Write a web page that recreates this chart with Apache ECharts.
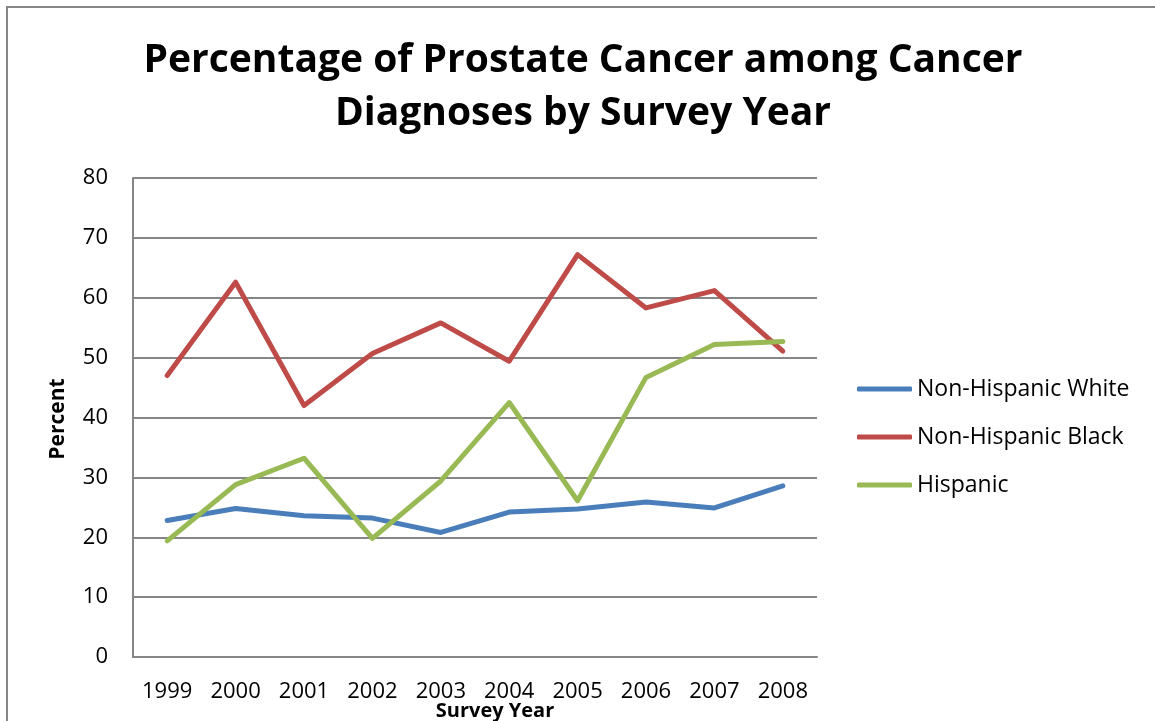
<!DOCTYPE html>
<html>
<head>
<meta charset="utf-8">
<script src="https://cdn.jsdelivr.net/npm/echarts@6/dist/echarts.min.js"></script>
<style>
  html, body { margin: 0; padding: 0; background: #fff; }
  #chart { width: 1155px; height: 721px; }
</style>
</head>
<body>
<div id="chart"></div>
<script>
// Survey years on the category axis
const years = ['1999', '2000', '2001', '2002', '2003', '2004', '2005', '2006', '2007', '2008'];

// Percentage of prostate cancer among cancer diagnoses, by group
const nonHispanicWhite = [22.8, 24.8, 23.6, 23.2, 20.8, 24.2, 24.7, 25.9, 24.9, 28.6];
const nonHispanicBlack = [47.0, 62.6, 42.0, 50.7, 55.8, 49.4, 67.2, 58.3, 61.2, 51.1];
const hispanic = [19.4, 28.8, 33.2, 19.8, 29.4, 42.5, 26.1, 46.7, 52.2, 52.7];

const seriesNames = ['Non-Hispanic White', 'Non-Hispanic Black', 'Hispanic'];
const yTicks = [0, 10, 20, 30, 40, 50, 60, 70, 80];

const titleLines = ['Percentage of Prostate Cancer among Cancer', 'Diagnoses by Survey Year'];

const FONT = '"Open Sans", Lato, sans-serif';
const GRID_COLOR = '#868686';
const colors = ['#4A7EBB', '#BE4B48', '#98B954'];

const chart = echarts.init(document.getElementById('chart'), null, { renderer: 'canvas' });

const lineSeries = (name, data, color) => ({
  name: name,
  type: 'line',
  data: data,
  showSymbol: false,
  symbol: 'none',
  color: color,
  lineStyle: { width: 5, color: color, cap: 'round', join: 'round' },
  emphasis: { disabled: true },
  animation: false
});

chart.setOption({
  backgroundColor: '#ffffff',
  animation: false,
  textStyle: { fontFamily: FONT },
  grid: { left: 133, right: 338, top: 178, bottom: 64, containLabel: false },
  xAxis: {
    type: 'category',
    data: years,
    boundaryGap: true,
    axisLine: { show: true, lineStyle: { color: GRID_COLOR, width: 2 } },
    axisTick: { show: false },
    axisLabel: { color: '#000', fontSize: 22, fontFamily: FONT, margin: 24 },
    splitLine: { show: false }
  },
  yAxis: {
    type: 'value',
    min: yTicks[0],
    max: yTicks[yTicks.length - 1],
    interval: 10,
    axisLine: { show: true, lineStyle: { color: GRID_COLOR, width: 2 } },
    axisTick: { show: false },
    axisLabel: { color: '#000', fontSize: 22, fontFamily: FONT, margin: 25 },
    splitLine: { show: true, lineStyle: { color: GRID_COLOR, width: 2 } }
  },
  legend: {
    orient: 'vertical',
    left: 852,
    top: 372,
    itemWidth: 55,
    itemHeight: 5,
    itemGap: 24,
    icon: 'roundRect',
    data: seriesNames,
    textStyle: { color: '#000', fontSize: 23, fontFamily: FONT, lineHeight: 24 }
  },
  graphic: [
    {
      type: 'rect',
      silent: true,
      shape: { x: 7, y: 7, width: 1170, height: 730 },
      style: { fill: 'none', stroke: GRID_COLOR, lineWidth: 2 }
    },
    {
      type: 'text',
      silent: true,
      x: 583, y: 61,
      style: {
        text: titleLines[0], fill: '#000', font: 'bold 39px ' + FONT,
        align: 'center', verticalAlign: 'middle'
      }
    },
    {
      type: 'text',
      silent: true,
      x: 583, y: 114,
      style: {
        text: titleLines[1], fill: '#000', font: 'bold 39px ' + FONT,
        align: 'center', verticalAlign: 'middle'
      }
    },
    {
      type: 'text',
      silent: true,
      x: 58, y: 419,
      rotation: Math.PI / 2,
      style: {
        text: 'Percent', fill: '#000', font: 'bold 21px ' + FONT,
        align: 'center', verticalAlign: 'middle'
      }
    },
    {
      type: 'text',
      silent: true,
      x: 495, y: 711,
      style: {
        text: 'Survey Year', fill: '#000', font: 'bold 20px ' + FONT,
        align: 'center', verticalAlign: 'middle'
      }
    }
  ],
  series: [
    lineSeries(seriesNames[0], nonHispanicWhite, colors[0]),
    lineSeries(seriesNames[1], nonHispanicBlack, colors[1]),
    lineSeries(seriesNames[2], hispanic, colors[2])
  ]
});
</script>
</body>
</html>
